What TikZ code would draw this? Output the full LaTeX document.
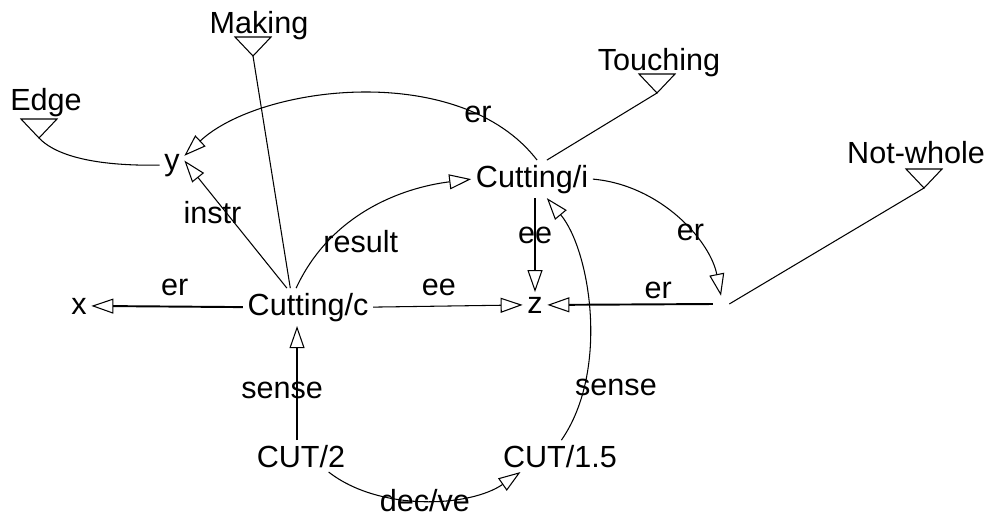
\documentclass[tikz,border=0pt]{standalone}
\usepackage{fontspec}
\setmainfont{Liberation Sans}
\usetikzlibrary{arrows.meta}

\begin{document}
\begin{tikzpicture}[x=0.02cm, y=-0.02cm, >={Triangle[open,length=0.44cm,width=0.3cm,line width=0.6pt]},
  every node/.style={font=\fontsize{17.4}{20}\selectfont, inner sep=2.5pt},
  main node/.style={anchor=base},
  link/.style={->, line width=0.6pt},
  strong link/.style={->, line width=1.1pt}]

  \useasboundingbox (0,0) rectangle (986,515);

  \node[main node] (1) at (46,110) {Edge};
  \node[main node] (2) at (259,33) {Making};
  \node[main node] (3) at (659,70) {Touching};
  \node[main node] (4) at (916,163) {Not-whole};
  \node[main node] (5) at (172,170) {y};
  \node[main node] (6) at (532,187) {Cutting/i};
  \node[main node] (7) at (79,314) {x};
  \node[main node] (8) at (308,315) {Cutting/c};
  \node[main node] (9) at (535,313) {z};
  \node[inner sep=4.5pt] (10) at (721,304) {};
  \node[main node] (11) at (301,467) {CUT/2};
  \node[main node] (12) at (560,467) {CUT/1.5};

  % little triangles under the sort names
  \coordinate (m1) at (39,138);
  \coordinate (m2) at (253,56);
  \coordinate (m3) at (657,93);
  \coordinate (m4) at (924,188);
  \foreach \t in {m1,m2,m3,m4}
    \draw[line width=0.6pt] (\t) -- ++(-18,-19) -- ++(36,0) -- cycle;

  \draw[line width=0.6pt] (m1) .. controls (60,160) and (110,166) .. (5.west);
  \draw[line width=0.6pt] (m2) -- (8.133);
  \draw[line width=0.6pt] (6.52) -- (m3);
  \draw[line width=0.6pt] (m4) -- (10.east);

  \draw[strong link] (8.west) -- node[pos=0.45, above=3pt]{er} (7.east);
  \draw[link] (8.east) -- node[pos=0.44, above=3pt]{ee} (9.west);
  \draw[strong link] (10.west) -- node[pos=0.33, above=0pt]{er} (9.east);
  \draw[strong link] (9.north |- 6.south) -- node[pos=0.4]{ee} (9.north);
  \draw[strong link] (11.north -| 8.-120) -- node[pos=0.44, xshift=-0.3cm]{sense} (8.-120);
  \draw[link] (8.138) -- node[pos=0.59, xshift=-0.28cm]{instr} (5.20);
  \draw[link] (8.122) .. controls (330,215) and (400,188) .. node[pos=0.25, xshift=0.66cm]{result} (6.west);
  \draw[link] (6.75) .. controls (460,60) and (260,85) .. node[pos=0.2]{er} (5.37);
  \draw[link] (6.east) .. controls (660,185) and (710,240) .. node[pos=0.6]{er} (10.north);
  \draw[link] (11.-30) .. controls (380,512) and (470,507) .. node[pos=0.5]{dec/ve} (12.-158);
  \draw[link] (12.85) .. controls (610,370) and (590,250) .. node[pos=0.22, xshift=0.64cm]{sense} (6.-52);
\end{tikzpicture}
\end{document}
